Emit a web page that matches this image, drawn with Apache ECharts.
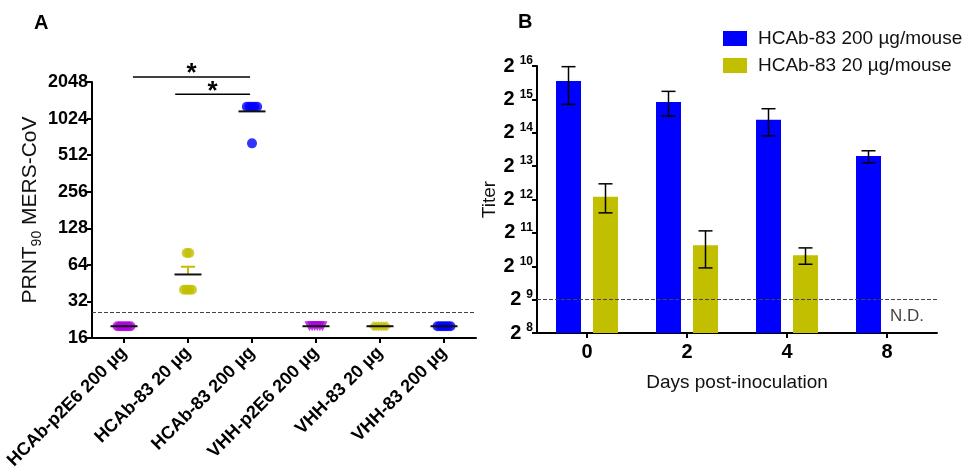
<!DOCTYPE html>
<html>
<head>
<meta charset="utf-8">
<title>PRNT90 and titer</title>
<script src="https://cdn.jsdelivr.net/npm/echarts@6/dist/echarts.min.js"></script>
<style>
  html, body { margin: 0; padding: 0; background: #fff; }
  #chart { width: 967px; height: 467px; }
</style>
</head>
<body>
<div id="chart"></div>
<script>
// ---- panel A: PRNT90 titer per mouse ----
const groupsA = ['HCAb-p2E6 200 µg', 'HCAb-83 20 µg', 'HCAb-83 200 µg', 'VHH-p2E6 200 µg', 'VHH-83 20 µg', 'VHH-83 200 µg']
const colorsA = ['#b000e0', '#c2bf00', '#0000ff', '#b000e0', '#c2bf00', '#0000ff']
const symbolsA = ['circle', 'circle', 'circle', 'triangle', 'diamond', 'circle']
const titersA = [
  [20, 20, 20, 20, 20, 20],
  [80, 80, 40, 40, 40, 40],
  [1280, 1280, 1280, 1280, 1280, 640],
  [20, 20, 20, 20, 20, 20],
  [20, 20, 20, 20, 20, 20],
  [20, 20, 20, 20, 20, 20],
]
const ticksA = [16, 32, 64, 128, 256, 512, 1024, 2048]
const detectionLimitA = 26
// significance brackets: [from category, to category, titer level]
const sigA = [
  [0.14, 1.97, 2250],
  [0.80, 1.97, 1620],
]

// ---- panel B: titer over time (log2 of titer) ----
const daysB = ['0', '2', '4', '8']
const ticksB = [8, 9, 10, 11, 12, 13, 14, 15, 16]
const dose200 = [15.55, 14.92, 14.39, 13.30]
const dose200Err = [[14.85, 15.98], [14.50, 15.24], [13.91, 14.72], [13.10, 13.46]]
const dose20 = [12.08, 10.63, 10.33, null]
const dose20Err = [[11.60, 12.47], [9.95, 11.06], [10.06, 10.55], null]
const detectionLimitB = 9

const FONT = '"Liberation Sans", Arial, sans-serif'
const log2 = Math.log2

function meanSem(arr) {
  const n = arr.length
  const m = arr.reduce((a, b) => a + b, 0) / n
  const sd = Math.sqrt(arr.reduce((a, b) => a + (b - m) ** 2, 0) / (n - 1))
  return [m, sd / Math.sqrt(n)]
}
const statsA = titersA.map(meanSem)

// spread identical values sideways, like a dot plot
const pointsA = []
titersA.forEach((vals, g) => {
  const seen = {}
  vals.forEach(v => { seen[v] = (seen[v] || 0) + 1 })
  const idx = {}
  vals.forEach(v => {
    const k = idx[v] = (idx[v] || 0)
    idx[v]++
    const off = (k - (seen[v] - 1) / 2) * 2.6
    pointsA.push({
      value: [g, log2(v)],
      symbol: symbolsA[g],
      symbolRotate: symbolsA[g] === 'triangle' ? 180 : 0,
      symbolOffset: [off, 0],
      itemStyle: { color: colorsA[g] },
    })
  })
})

const chart = echarts.init(document.getElementById('chart'))

const axisLine = { show: true, lineStyle: { color: '#000', width: 2 } }
const axisTick = { show: true, length: 5, lineStyle: { color: '#000', width: 2 } }

// category axes snap to whole indices, so place fractional positions by band width
function catX(api, c, y) {
  const base = Math.floor(c)
  const p = api.coord([base, y])
  return [p[0] + (c - base) * api.size([1, 0])[0], p[1]]
}

const option = {
  animation: false,
  textStyle: { fontFamily: FONT },
  title: [
    { text: 'A', left: 34, top: 13, padding: 0, textStyle: { fontSize: 20, fontWeight: 'bold', color: '#000', fontFamily: FONT } },
    { text: 'B', left: 518, top: 12, padding: 0, textStyle: { fontSize: 20, fontWeight: 'bold', color: '#000', fontFamily: FONT } },
  ],
  legend: {
    orient: 'vertical',
    left: 723,
    top: 29,
    padding: 0,
    itemWidth: 24,
    itemHeight: 15,
    itemGap: 8,
    icon: 'rect',
    data: ['HCAb-83 200 µg/mouse', 'HCAb-83 20 µg/mouse'],
    textStyle: { fontSize: 19, color: '#111', fontFamily: FONT, padding: [0, 0, 0, 6] },
  },
  grid: [
    { left: 92, top: 82, width: 384, height: 256, outerBoundsMode: 'none' },
    { left: 537, top: 66, width: 400, height: 267, outerBoundsMode: 'none' },
  ],
  xAxis: [
    {
      type: 'category',
      gridIndex: 0,
      data: groupsA,
      axisLine,
      axisTick: { ...axisTick, alignWithLabel: true },
      axisLabel: { interval: 0, rotate: 45, margin: 12, fontSize: 18, fontWeight: 'bold', color: '#000', fontFamily: FONT },
    },
    {
      type: 'category',
      gridIndex: 1,
      data: daysB,
      axisLine,
      axisTick: { ...axisTick, alignWithLabel: true },
      axisLabel: { margin: 9, fontSize: 20, fontWeight: 'bold', color: '#000', fontFamily: FONT },
      name: 'Days post-inoculation',
      nameLocation: 'middle',
      nameGap: 40,
      nameTextStyle: { fontSize: 19, color: '#111', fontFamily: FONT },
    },
  ],
  yAxis: [
    {
      type: 'value',
      gridIndex: 0,
      min: log2(ticksA[0]),
      max: log2(ticksA[ticksA.length - 1]),
      interval: 1,
      axisLine,
      axisTick,
      splitLine: { show: false },
      axisLabel: {
        margin: 4,
        fontSize: 18,
        fontWeight: 'bold',
        color: '#000',
        fontFamily: FONT,
        formatter: v => String(Math.round(Math.pow(2, v))),
      },
      name: '{a|PRNT}{s|90}{a| MERS-CoV}',
      nameLocation: 'middle',
      nameGap: 48,
      nameTextStyle: {
        fontFamily: FONT,
        rich: {
          a: { fontSize: 21, color: '#111', lineHeight: 28, fontFamily: FONT },
          s: { fontSize: 14, color: '#111', lineHeight: 14, verticalAlign: 'bottom', fontFamily: FONT },
        },
      },
    },
    {
      type: 'value',
      gridIndex: 1,
      min: ticksB[0],
      max: ticksB[ticksB.length - 1],
      interval: 1,
      axisLine,
      axisTick,
      splitLine: { show: false },
      axisLabel: {
        margin: 4,
        formatter: v => '{b|2}{s|' + v + '}',
        rich: {
          b: { fontSize: 20, fontWeight: 'bold', color: '#000', lineHeight: 22, fontFamily: FONT, padding: [0, 5, 0, 0] },
          s: { fontSize: 12, fontWeight: 'bold', color: '#000', lineHeight: 12, verticalAlign: 'top', fontFamily: FONT },
        },
      },
      name: 'Titer',
      nameLocation: 'middle',
      nameGap: 37,
      nameTextStyle: { fontSize: 19, color: '#111', fontFamily: FONT },
    },
  ],
  series: [
    // panel A: upper SEM whisker
    {
      type: 'custom',
      xAxisIndex: 0,
      yAxisIndex: 0,
      z: 2,
      data: statsA.map((s, i) => [i, log2(s[0]), log2(s[0] + s[1])]),
      renderItem: (params, api) => {
        const mid = api.coord([api.value(0), api.value(1)])
        const top = api.coord([api.value(0), api.value(2)])
        const c = colorsA[params.dataIndex]
        return {
          type: 'group',
          children: [
            { type: 'line', shape: { x1: mid[0], y1: mid[1], x2: top[0], y2: top[1] }, style: { stroke: c, lineWidth: 2 } },
            { type: 'line', shape: { x1: top[0] - 7, y1: top[1], x2: top[0] + 7, y2: top[1] }, style: { stroke: c, lineWidth: 2 } },
          ],
        }
      },
      markLine: {
        silent: true,
        symbol: 'none',
        label: { show: false },
        lineStyle: { color: '#444', type: [4, 2], width: 1 },
        data: [{ yAxis: log2(detectionLimitA) }],
      },
    },
    // panel A: individual mice
    {
      type: 'scatter',
      xAxisIndex: 0,
      yAxisIndex: 0,
      z: 3,
      symbolSize: 10,
      data: pointsA,
    },
    // panel A: mean line
    {
      type: 'custom',
      xAxisIndex: 0,
      yAxisIndex: 0,
      z: 4,
      data: statsA.map((s, i) => [i, log2(s[0])]),
      renderItem: (params, api) => {
        const p = api.coord([api.value(0), api.value(1)])
        return { type: 'line', shape: { x1: p[0] - 13.5, y1: p[1], x2: p[0] + 13.5, y2: p[1] }, style: { stroke: '#111', lineWidth: 2 } }
      },
    },
    // panel A: significance brackets
    {
      type: 'custom',
      xAxisIndex: 0,
      yAxisIndex: 0,
      clip: false,
      z: 5,
      data: sigA.map(d => [d[0], d[1], log2(d[2])]),
      renderItem: (params, api) => {
        const a = catX(api, api.value(0), api.value(2))
        const b = catX(api, api.value(1), api.value(2))
        return {
          type: 'group',
          children: [
            { type: 'line', shape: { x1: a[0], y1: a[1], x2: b[0], y2: b[1] }, style: { stroke: '#000', lineWidth: 1.5 } },
            {
              type: 'text',
              x: (a[0] + b[0]) / 2,
              y: a[1] - 3,
              style: { text: '*', fontSize: 26, fontWeight: 'bold', fontFamily: FONT, fill: '#000', align: 'center', verticalAlign: 'middle' },
            },
          ],
        }
      },
    },
    // panel B: bars
    {
      name: 'HCAb-83 200 µg/mouse',
      type: 'bar',
      xAxisIndex: 1,
      yAxisIndex: 1,
      barWidth: 25,
      barGap: '48%',
      itemStyle: { color: '#0000ff' },
      data: dose200,
    },
    {
      name: 'HCAb-83 20 µg/mouse',
      type: 'bar',
      xAxisIndex: 1,
      yAxisIndex: 1,
      barWidth: 25,
      barGap: '48%',
      itemStyle: { color: '#c2bf00' },
      data: dose20,
    },
    // panel B: error bars for both doses
    {
      type: 'custom',
      xAxisIndex: 1,
      yAxisIndex: 1,
      z: 5,
      data: dose200Err.map((e, i) => [i, e[0], e[1], -1])
        .concat(dose20Err.map((e, i) => e ? [i, e[0], e[1], 1] : null).filter(Boolean)),
      renderItem: (params, api) => {
        const lo = api.coord([api.value(0), api.value(1)])
        const hi = api.coord([api.value(0), api.value(2)])
        const x = lo[0] + api.value(3) * 18.5
        const st = { stroke: '#000', lineWidth: 1.5 }
        return {
          type: 'group',
          children: [
            { type: 'line', shape: { x1: x, y1: lo[1], x2: x, y2: hi[1] }, style: st },
            { type: 'line', shape: { x1: x - 7, y1: lo[1], x2: x + 7, y2: lo[1] }, style: st },
            { type: 'line', shape: { x1: x - 7, y1: hi[1], x2: x + 7, y2: hi[1] }, style: st },
          ],
        }
      },
      markLine: {
        silent: true,
        symbol: 'none',
        label: { show: false },
        lineStyle: { color: '#444', type: [4, 2], width: 1 },
        data: [{ yAxis: detectionLimitB }],
      },
    },
    // panel B: not detected marker for the low dose on day 8
    {
      type: 'scatter',
      xAxisIndex: 1,
      yAxisIndex: 1,
      symbolSize: 0,
      silent: true,
      data: [[3, 8.5]],
      label: { show: true, formatter: 'N.D.', offset: [20, 0], fontSize: 17, color: '#111', fontFamily: FONT },
    },
  ],
}

chart.setOption(option)
</script>
</body>
</html>
